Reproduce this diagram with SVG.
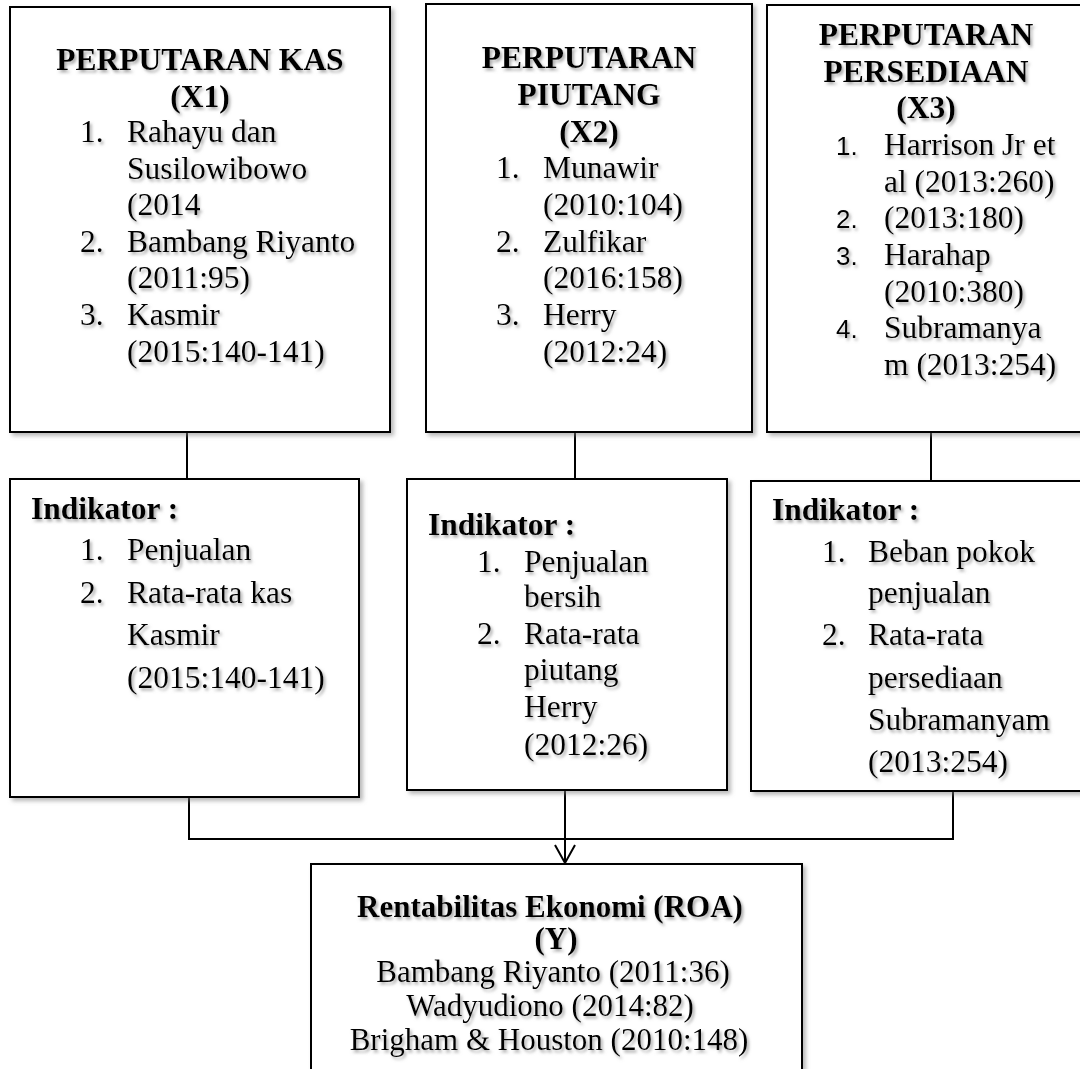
<svg xmlns="http://www.w3.org/2000/svg" width="1080" height="1069" viewBox="0 0 1080 1069">
<style>
  .box { fill: #ffffff; stroke: #000000; stroke-width: 2; filter: url(#boxShadow); }
  .conn { fill: none; stroke: #000000; stroke-width: 2; }
  text { font-family: "Liberation Serif", "Times New Roman", serif; font-size: 31.5px; fill: #000000; filter: url(#textShadow); }
  .b { font-weight: bold; }
  .c { text-anchor: middle; }
  .num { font-family: "Liberation Sans", Arial, sans-serif; font-size: 26px; }
  .y text { font-size: 31px; }
</style>
<defs>
  <filter id="boxShadow" x="-10%" y="-10%" width="120%" height="120%">
    <feDropShadow dx="3" dy="3" stdDeviation="2" flood-color="#808080" flood-opacity="0.55"/>
  </filter>
  <filter id="textShadow" x="-10%" y="-30%" width="120%" height="160%">
    <feDropShadow dx="2" dy="2.5" stdDeviation="1.8" flood-color="#808080" flood-opacity="0.65"/>
  </filter>
</defs>

<g id="connectors">
  <line class="conn" x1="187" y1="432" x2="187" y2="479"/>
  <line class="conn" x1="575" y1="432" x2="575" y2="479"/>
  <line class="conn" x1="931" y1="432" x2="931" y2="481"/>
  <polyline class="conn" points="189,797 189,839 953,839 953,791"/>
  <line class="conn" x1="565" y1="790" x2="565" y2="863"/>
  <polyline class="conn" points="555,845 565,863 575,845"/>
</g>

<g id="x1">
  <rect class="box" x="10" y="7" width="380" height="425"/>
  <text class="b c" x="200" y="70">PERPUTARAN KAS</text>
  <text class="b c" x="200" y="107">(X1)</text>
  <text x="80" y="142">1.</text><text x="127" y="142">Rahayu dan</text>
  <text x="127" y="179">Susilowibowo</text>
  <text x="127" y="215">(2014</text>
  <text x="80" y="252">2.</text><text x="127" y="252">Bambang Riyanto</text>
  <text x="127" y="288">(2011:95)</text>
  <text x="80" y="325">3.</text><text x="127" y="325">Kasmir</text>
  <text x="127" y="362">(2015:140-141)</text>
</g>

<g id="x2">
  <rect class="box" x="426" y="4" width="326" height="428"/>
  <text class="b c" x="589" y="68">PERPUTARAN</text>
  <text class="b c" x="589" y="105">PIUTANG</text>
  <text class="b c" x="589" y="142">(X2)</text>
  <text x="496" y="178">1.</text><text x="543" y="178">Munawir</text>
  <text x="543" y="215">(2010:104)</text>
  <text x="496" y="252">2.</text><text x="543" y="252">Zulfikar</text>
  <text x="543" y="288">(2016:158)</text>
  <text x="496" y="325">3.</text><text x="543" y="325">Herry</text>
  <text x="543" y="362">(2012:24)</text>
</g>

<g id="x3">
  <rect class="box" x="767" y="5" width="330" height="427"/>
  <text class="b c" x="926" y="45">PERPUTARAN</text>
  <text class="b c" x="926" y="82">PERSEDIAAN</text>
  <text class="b c" x="926" y="118">(X3)</text>
  <text class="num" x="836" y="155">1.</text><text x="884" y="155">Harrison Jr et</text>
  <text x="884" y="192">al (2013:260)</text>
  <text class="num" x="836" y="228">2.</text><text x="884" y="228">(2013:180)</text>
  <text class="num" x="836" y="265">3.</text><text x="884" y="265">Harahap</text>
  <text x="884" y="302">(2010:380)</text>
  <text class="num" x="836" y="338">4.</text><text x="884" y="338">Subramanya</text>
  <text x="884" y="375">m (2013:254)</text>
</g>

<g id="ind1">
  <rect class="box" x="10" y="479" width="349" height="318"/>
  <text class="b" x="31" y="519">Indikator :</text>
  <text x="80" y="560">1.</text><text x="127" y="560">Penjualan</text>
  <text x="80" y="603">2.</text><text x="127" y="603">Rata-rata kas</text>
  <text x="127" y="645">Kasmir</text>
  <text x="127" y="688">(2015:140-141)</text>
</g>

<g id="ind2">
  <rect class="box" x="407" y="479" width="320" height="311"/>
  <text class="b" x="428" y="535">Indikator :</text>
  <text x="477" y="572">1.</text><text x="524" y="572">Penjualan</text>
  <text x="524" y="607">bersih</text>
  <text x="477" y="644">2.</text><text x="524" y="644">Rata-rata</text>
  <text x="524" y="680">piutang</text>
  <text x="524" y="717">Herry</text>
  <text x="524" y="755">(2012:26)</text>
</g>

<g id="ind3">
  <rect class="box" x="751" y="481" width="340" height="310"/>
  <text class="b" x="772" y="520">Indikator :</text>
  <text x="822" y="562">1.</text><text x="868" y="562">Beban pokok</text>
  <text x="868" y="603">penjualan</text>
  <text x="822" y="645">2.</text><text x="868" y="645">Rata-rata</text>
  <text x="868" y="688">persediaan</text>
  <text x="868" y="730">Subramanyam</text>
  <text x="868" y="772">(2013:254)</text>
</g>

<g id="y" class="y">
  <rect class="box" x="311" y="864" width="491" height="230"/>
  <text class="b c" x="550" y="917">Rentabilitas Ekonomi (ROA)</text>
  <text class="b c" x="556" y="949">(Y)</text>
  <text class="c" x="553" y="982">Bambang Riyanto (2011:36)</text>
  <text class="c" x="550" y="1016">Wadyudiono (2014:82)</text>
  <text class="c" x="549" y="1050">Brigham &amp; Houston (2010:148)</text>
</g>
</svg>
